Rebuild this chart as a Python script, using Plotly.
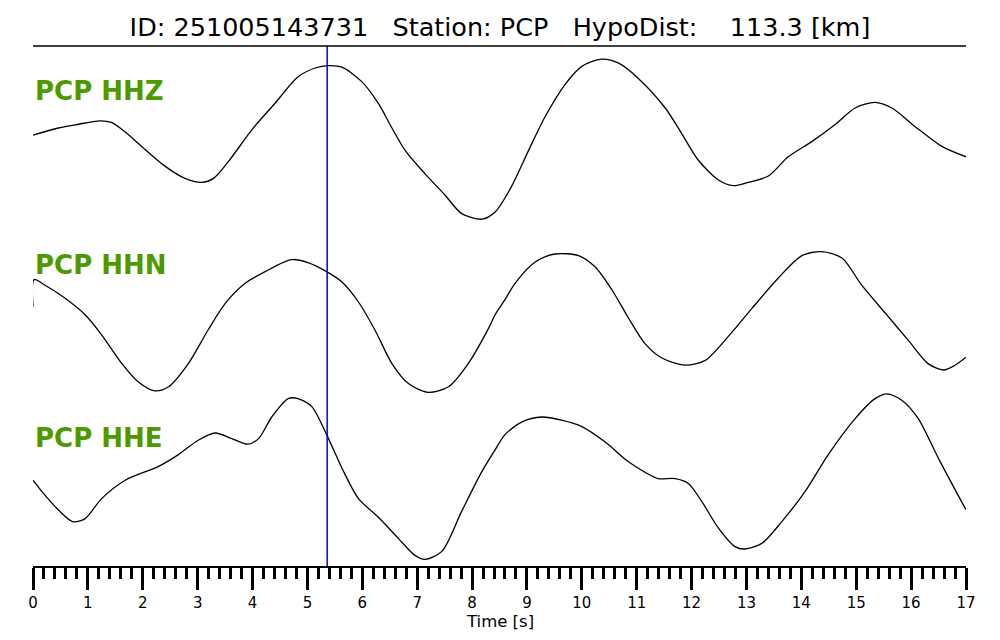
import plotly.graph_objects as go

station = "PCP"
event_id = "251005143731"
hypo_dist_km = 113.3
pick_time = 5.36

# HHZ component, time [s] and normalised amplitude
hhz_t = [0.0, 0.46, 0.77, 1.22, 1.43, 1.68, 1.98, 2.41, 2.77, 3.07, 3.29, 3.56, 3.99, 4.41,
         4.83, 5.14, 5.38, 5.63, 5.99, 6.29, 6.54, 6.78, 7.14, 7.51, 7.81, 8.18, 8.42, 8.72,
         9.03, 9.33, 9.69, 10.0, 10.36, 10.67, 11.03, 11.52, 11.82, 12.12, 12.49, 12.76,
         13.03, 13.4, 13.76, 14.19, 14.61, 14.98, 15.34, 15.65, 16.07, 16.56, 17.0]
hhz_amp = [0.06, 0.15, 0.19, 0.24, 0.22, 0.1, -0.08, -0.33, -0.48, -0.53, -0.48, -0.27, 0.13,
           0.46, 0.79, 0.9, 0.93, 0.91, 0.73, 0.46, 0.15, -0.13, -0.42, -0.69, -0.92, -0.99,
           -0.9, -0.58, -0.13, 0.29, 0.69, 0.92, 1.01, 0.96, 0.77, 0.4, 0.08, -0.25, -0.5,
           -0.57, -0.53, -0.45, -0.21, -0.02, 0.19, 0.4, 0.47, 0.4, 0.17, -0.08, -0.21]

# HHN component
hhn_t = [0.0, 0.02, 0.22, 0.58, 0.95, 1.25, 1.62, 1.92, 2.22, 2.47, 2.83, 3.19, 3.5, 3.86,
         4.23, 4.71, 5.02, 5.35, 5.63, 5.93, 6.23, 6.54, 6.84, 7.2, 7.57, 7.93, 8.3, 8.42,
         8.6, 8.78, 9.15, 9.51, 9.94, 10.24, 10.55, 10.85, 11.15, 11.46, 11.88, 12.25,
         12.67, 13.1, 13.58, 14.01, 14.37, 14.74, 15.1, 15.53, 15.95, 16.31, 16.59, 16.8, 17.0]
hhn_amp = [0.19, 0.53, 0.46, 0.3, 0.09, -0.16, -0.52, -0.75, -0.86, -0.81, -0.52, -0.1, 0.23,
           0.48, 0.63, 0.78, 0.74, 0.63, 0.5, 0.25, -0.1, -0.52, -0.77, -0.88, -0.81, -0.52,
           -0.08, 0.09, 0.28, 0.48, 0.75, 0.85, 0.83, 0.69, 0.4, 0.05, -0.27, -0.45, -0.54,
           -0.48, -0.18, 0.17, 0.55, 0.83, 0.88, 0.8, 0.46, 0.11, -0.23, -0.52, -0.6, -0.54, -0.44]

# HHE component
hhe_t = [0.0, 0.16, 0.46, 0.73, 0.95, 1.25, 1.68, 2.28, 2.65, 3.01, 3.32, 3.62, 3.92, 4.11,
         4.35, 4.65, 4.83, 5.08, 5.35, 5.63, 5.93, 6.29, 6.66, 6.96, 7.14, 7.45, 7.81, 8.18,
         8.42, 8.6, 8.91, 9.27, 9.63, 10.0, 10.42, 10.85, 11.15, 11.39, 11.7, 11.94, 12.19,
         12.49, 12.79, 12.97, 13.28, 13.64, 14.07, 14.49, 14.98, 15.34, 15.56, 15.83, 16.13,
         16.5, 17.0]
hhe_amp = [-0.04, -0.18, -0.41, -0.56, -0.52, -0.27, -0.04, 0.13, 0.28, 0.46, 0.55, 0.48,
           0.41, 0.48, 0.75, 0.98, 0.98, 0.88, 0.53, 0.11, -0.27, -0.5, -0.77, -0.98, -1.03,
           -0.93, -0.43, 0.07, 0.34, 0.53, 0.69, 0.75, 0.71, 0.63, 0.44, 0.19, 0.06, -0.02,
           -0.02, -0.08, -0.31, -0.64, -0.87, -0.9, -0.83, -0.56, -0.18, 0.28, 0.73, 0.98,
           1.04, 0.96, 0.73, 0.23, -0.41]

channels = ["HHZ", "HHN", "HHE"]
times = [hhz_t, hhn_t, hhe_t]
amps = [hhz_amp, hhn_amp, hhe_amp]

# vertical placement of each trace (plot y runs from -6.5 at the axis to 0 at the top rule)
offsets = [-1.175, -3.45, -5.3875]
label_y = [0.9135, 0.579, 0.246]

fig = go.Figure()
for ch, t, a, off in zip(channels, times, amps, offsets):
    fig.add_trace(go.Scatter(
        x=t, y=[v + off for v in a], mode="lines", name=ch,
        line={"color": "black", "width": 1.3, "shape": "spline", "smoothing": 0.8},
        hoverinfo="skip",
    ))

for ch, ly in zip(channels, label_y):
    fig.add_annotation(
        text=f"{station} {ch}", xref="paper", yref="paper", x=0, y=ly,
        xanchor="left", yanchor="middle", showarrow=False,
        font={"family": "DejaVu Sans", "size": 26, "color": "#4c9a00", "weight": "bold"},
    )

fig.add_vline(x=pick_time, line_color="#0000e0", line_width=1.5)
fig.add_shape(type="line", xref="paper", yref="paper", x0=0, x1=1, y0=1, y1=1,
              line={"color": "black", "width": 1.5})

fig.add_annotation(
    text="Time [s]", xref="paper", yref="paper", x=0.5, y=0, yshift=-55,
    xanchor="center", yanchor="middle", showarrow=False,
    font={"family": "DejaVu Sans", "size": 16.5, "color": "black"},
)

nb = "\u00a0"
title = (f"ID: {event_id}{nb * 3}Station: {station}{nb * 3}"
         f"HypoDist:{nb * 4}{hypo_dist_km:.1f} [km]")

# the page body adds an 8 px margin, so the figure is 992x632 and margins are shifted
fig.update_layout(
    width=992, height=632,
    paper_bgcolor="white", plot_bgcolor="white",
    margin={"l": 25, "r": 34, "t": 38, "b": 74, "autoexpand": False},
    showlegend=False,
    title={"text": title, "x": (500 - 8) / 992, "xanchor": "center", "y": 1 - 19 / 632,
           "yanchor": "middle",
           "font": {"family": "DejaVu Sans", "size": 25.5, "color": "black"}},
    xaxis={
        "range": [0, 17], "dtick": 1, "tick0": 0, "showgrid": False, "zeroline": False,
        "showline": True, "linecolor": "black", "linewidth": 2,
        "ticks": "outside", "ticklen": 22, "tickwidth": 2.5, "tickcolor": "black",
        "tickfont": {"family": "DejaVu Sans", "size": 15, "color": "black"},
        "minor": {"dtick": 0.2, "ticks": "outside", "ticklen": 11, "tickwidth": 2.5,
                  "tickcolor": "black", "showgrid": False},
    },
    yaxis={"range": [-6.5, 0], "visible": False},
)

fig.write_html("out.html")
